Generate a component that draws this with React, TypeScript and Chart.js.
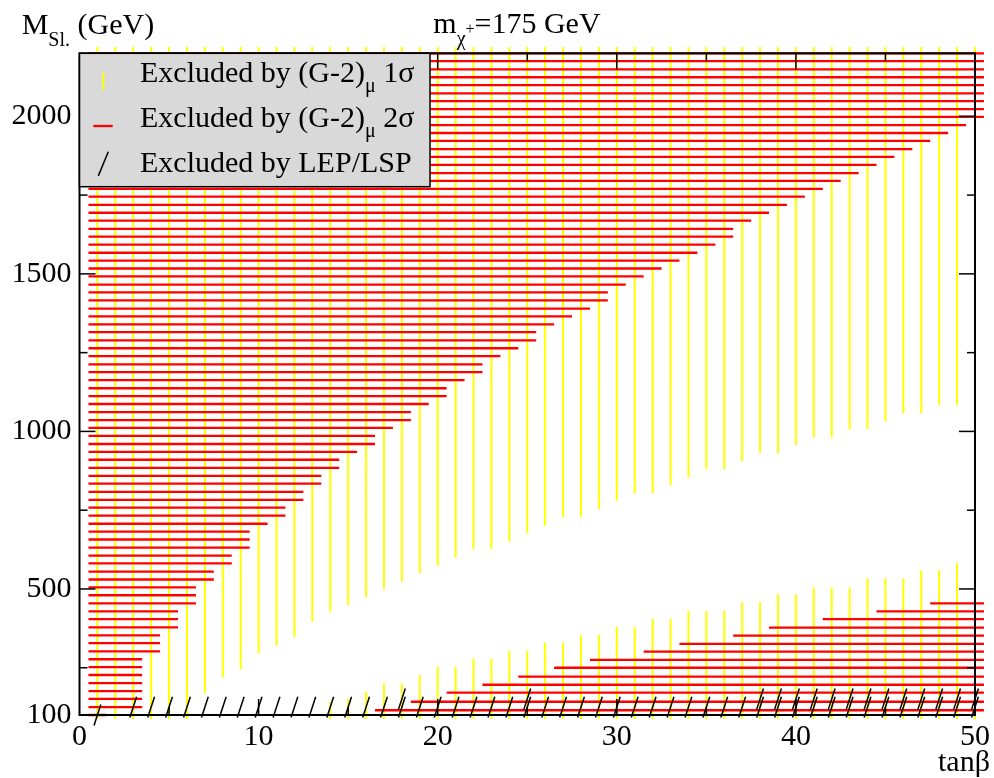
import React, { useEffect, useRef } from 'react';
import { Chart, registerables } from 'chart.js';

Chart.register(...registerables);

const FONT = "'Liberation Serif', 'Times New Roman', serif";

// Axes
const X_MIN = 0;
const X_MAX = 50;
const Y_MIN = 100;
const Y_MAX = 2200;
const xTickValues = [0, 10, 20, 30, 40, 50];
const xMajorInner = [10, 20, 30, 40];
const xMinorTicks = [5, 15, 25, 35, 45];
const yTickValues = [100, 500, 1000, 1500, 2000];
const yMajorInner = [500, 1000, 1500, 2000];
const yMinorTicks = [250, 750, 1250, 1750];

// Slepton mass grid rows (GeV)
const mLevels = [100, 125, 151, 176, 201, 227, 252, 277, 302, 328, 353, 378, 404, 429, 454, 480, 505, 530, 555, 581,
  606, 631, 657, 682, 707, 733, 758, 783, 808, 834, 859, 884, 910, 935, 960, 986, 1011, 1036, 1061, 1087,
  1112, 1137, 1163, 1188, 1213, 1239, 1264, 1289, 1315, 1340, 1365, 1390, 1416, 1441, 1466, 1492, 1517, 1542, 1567, 1593,
  1618, 1643, 1669, 1694, 1719, 1745, 1770, 1795, 1820, 1846, 1871, 1896, 1922, 1947, 1972, 1998, 2023, 2048, 2073, 2099,
  2124, 2149, 2175, 2200];

// 2 sigma excluded (upper-left region): tan beta from 0.5 up to this edge, per mass row
const redUpperStart = 0.5;
const redUpperEnd = [1.5, 3.5, 3.5, 3.5, 3.5, 3.5, 3.5, 3.5, 4.5, 4.5, 4.5, 5.5, 5.5, 5.5, 6.5, 6.5, 6.5, 7.5, 7.5, 8.5,
  8.5, 9.5, 9.5, 9.5, 10.5, 11.5, 11.5, 12.5, 12.5, 13.5, 13.5, 14.5, 14.5, 15.5, 16.5, 16.5, 17.5, 18.5, 18.5, 19.5,
  20.5, 20.5, 21.5, 22.5, 22.5, 23.5, 24.5, 25.5, 25.5, 26.5, 27.5, 28.5, 29.5, 29.5, 30.5, 31.5, 32.5, 33.5, 34.5, 35.5,
  36.5, 36.5, 37.5, 38.5, 39.5, 40.5, 41.5, 42.5, 43.5, 44.5, 45.5, 46.5, 47.5, 48.5, 49.5, 50.5, 50.5, 50.5, 50.5, 50.5,
  50.5, 50.5, 50.5, 50.5];

// 2 sigma excluded (lower-right region)
const redLowerM = [115, 142, 171, 196, 222, 250, 275, 301, 326, 352, 377, 404, 429, 454];
const redLowerStart = [16.5, 18.5, 20.5, 22.5, 24.5, 26.5, 28.5, 31.5, 33.5, 36.5, 38.5, 41.5, 44.5, 47.5];
const redLowerEnd = 50.5;

// 1 sigma excluded, vertical hatching per tan beta
const tanBeta = [1, 2, 3, 4, 5, 6, 7, 8, 9, 10, 11, 12, 13, 14, 15, 16, 17, 18, 19, 20, 21, 22, 23, 24, 25,
  26, 27, 28, 29, 30, 31, 32, 33, 34, 35, 36, 37, 38, 39, 40, 41, 42, 43, 44, 45, 46, 47, 48, 49, 50];
const yellowTop = 2220;
const yellowBottom = 87;
const yellowUpperEnd = [87, 87, 87, 87, 87, 87, 169, 220, 245, 296, 320, 347, 396, 428, 449, 473, 500, 523, 550, 574,
  599, 626, 626, 650, 677, 701, 728, 728, 753, 780, 803, 803, 829, 854, 880, 880, 905, 930, 930, 956,
  981, 981, 1006, 1006, 1032, 1057, 1057, 1083, 1083, 1110];
const yellowLowerTop = [null, null, null, null, null, null, null, null, null, null, null, null, null, 141, 151, 174, 201, 201, 227, 253,
  253, 279, 279, 304, 304, 329, 329, 354, 354, 380, 380, 406, 406, 431, 431, 431, 459, 459, 484, 484,
  505, 505, 505, 534, 534, 534, 560, 560, 583, 583];

// LEP / LSP excluded points
const lepRowM = [100, 125, 151];
const lepTanRow0 = [1];
const lepTanRow1 = [3, 4, 5, 6, 7, 8, 9, 10, 11, 12, 13, 14, 15, 16, 17, 18, 19, 20, 21, 22, 23, 24, 25, 26,
  27, 28, 29, 30, 31, 32, 33, 34, 35, 36, 37, 38, 39, 40, 41, 42, 43, 44, 45, 46, 47, 48, 49, 50];
const lepTanRow2 = [18, 25, 38, 39, 40, 41, 42, 43, 44, 45, 46, 47, 48, 49, 50];

type Pt = { x: number; y: number | null };

function buildYellow(): Pt[] {
  const d: Pt[] = [];
  tanBeta.forEach((t, i) => {
    d.push({ x: t, y: yellowTop }, { x: t, y: yellowUpperEnd[i] }, { x: t, y: null });
    const lt = yellowLowerTop[i];
    if (lt !== null) d.push({ x: t, y: yellowBottom }, { x: t, y: lt }, { x: t, y: null });
  });
  return d;
}

function buildRedUpper(): Pt[] {
  const d: Pt[] = [];
  mLevels.forEach((m, i) => {
    d.push({ x: redUpperStart, y: m }, { x: redUpperEnd[i], y: m }, { x: redUpperEnd[i], y: null });
  });
  return d;
}

function buildRedLower(): Pt[] {
  const d: Pt[] = [];
  redLowerM.forEach((m, i) => {
    d.push({ x: redLowerStart[i], y: m }, { x: redLowerEnd, y: m }, { x: redLowerEnd, y: null });
  });
  return d;
}

function buildLep(): Pt[] {
  const d: Pt[] = [];
  lepTanRow0.forEach((t) => d.push({ x: t, y: lepRowM[0] }));
  lepTanRow1.forEach((t) => d.push({ x: t, y: lepRowM[1] }));
  lepTanRow2.forEach((t) => d.push({ x: t, y: lepRowM[2] }));
  return d;
}

type Part = { t: string; size: number; dy?: number };
function drawRich(ctx: CanvasRenderingContext2D, x: number, y: number, parts: Part[]) {
  let cx = x;
  for (const p of parts) {
    ctx.font = `${p.size}px ${FONT}`;
    ctx.fillText(p.t, cx, y + (p.dy || 0));
    cx += ctx.measureText(p.t).width;
  }
}

function line(ctx: CanvasRenderingContext2D, x1: number, y1: number, x2: number, y2: number) {
  ctx.beginPath();
  ctx.moveTo(x1, y1);
  ctx.lineTo(x2, y2);
  ctx.stroke();
}

const decorPlugin = {
  id: 'decor',
  afterDatasetsDraw(chart: any) {
    const { ctx, chartArea } = chart;
    const { left, right, top, bottom } = chartArea;
    const xs = chart.scales.x;
    const ys = chart.scales.y;
    ctx.save();
    ctx.strokeStyle = '#000';
    ctx.lineWidth = 1.5;
    const major = 16;
    const minor = 8;
    xMajorInner.forEach((v) => {
      const px = xs.getPixelForValue(v);
      line(ctx, px, bottom, px, bottom - major);
      line(ctx, px, top, px, top + major);
    });
    xMinorTicks.forEach((v) => {
      const px = xs.getPixelForValue(v);
      line(ctx, px, bottom, px, bottom - minor);
      line(ctx, px, top, px, top + minor);
    });
    yMajorInner.forEach((v) => {
      const py = ys.getPixelForValue(v);
      line(ctx, left, py, left + major, py);
      line(ctx, right, py, right - major, py);
    });
    yMinorTicks.forEach((v) => {
      const py = ys.getPixelForValue(v);
      line(ctx, left, py, left + minor, py);
      line(ctx, right, py, right - minor, py);
    });
    ctx.lineWidth = 2;
    ctx.strokeRect(left, top, right - left, bottom - top);
    ctx.restore();
  },
  afterDraw(chart: any) {
    const { ctx, chartArea } = chart;
    const { left, top } = chartArea;
    ctx.save();
    // Legend box
    const bx = left;
    const by = top;
    const bw = 430 - left;
    const bh = 186.7 - top;
    ctx.fillStyle = '#d9d9d9';
    ctx.fillRect(bx, by, bw, bh);
    ctx.strokeStyle = '#000';
    ctx.lineWidth = 1.5;
    ctx.strokeRect(bx, by, bw, bh);

    // Legend symbols
    ctx.strokeStyle = '#ffff00';
    ctx.lineWidth = 2;
    line(ctx, 103.3, 72.7, 103.3, 90);
    ctx.strokeStyle = '#ff0000';
    ctx.lineWidth = 2.3;
    line(ctx, 93.3, 126, 112.7, 126);
    ctx.strokeStyle = '#000';
    ctx.lineWidth = 1.5;
    line(ctx, 98.3, 175.9, 108.3, 151.7);

    ctx.fillStyle = '#000';
    ctx.textBaseline = 'alphabetic';
    ctx.textAlign = 'left';
    drawRich(ctx, 140, 81.7, [
      { t: 'Excluded by (G-2)', size: 30 },
      { t: 'μ', size: 20, dy: 10 },
      { t: ' 1σ', size: 30 },
    ]);
    drawRich(ctx, 140, 126.7, [
      { t: 'Excluded by (G-2)', size: 30 },
      { t: 'μ', size: 20, dy: 10 },
      { t: ' 2σ', size: 30 },
    ]);
    drawRich(ctx, 140, 171.7, [{ t: 'Excluded by LEP/LSP', size: 30 }]);

    // Axis titles and heading
    drawRich(ctx, 21.7, 34, [
      { t: 'M', size: 30 },
      { t: 'Sl.', size: 20, dy: 12 },
      { t: ' (GeV)', size: 30 },
    ]);
    drawRich(ctx, 433.3, 33.3, [
      { t: 'm', size: 30 },
      { t: 'χ', size: 20, dy: 12 },
      { t: '+', size: 16, dy: 1 },
      { t: '=175 GeV', size: 30 },
    ]);
    drawRich(ctx, 938, 770.7, [{ t: 'tanβ', size: 30 }]);
    ctx.restore();
  },
};

export default function App() {
  const ref = useRef<HTMLCanvasElement | null>(null);
  useEffect(() => {
    document.body.style.margin = '0';
    const canvas = ref.current;
    if (!canvas) return;
    const tickFont = { family: FONT, size: 30 };
    const chart = new Chart(canvas, {
      type: 'line',
      data: {
        datasets: [
          {
            label: 'Excluded by LEP/LSP',
            data: buildLep() as any,
            showLine: false,
            pointStyle: 'line',
            pointRotation: -72,
            pointRadius: 11,
            pointBorderColor: '#000',
            pointBorderWidth: 1.5,
            pointBackgroundColor: '#000',
            clip: false as any,
          },
          {
            label: 'Excluded by (G-2) 2σ (low)',
            data: buildRedLower() as any,
            borderColor: '#ff0000',
            borderWidth: 2.3,
            pointRadius: 0,
            spanGaps: false,
            clip: false as any,
          },
          {
            label: 'Excluded by (G-2) 2σ',
            data: buildRedUpper() as any,
            borderColor: '#ff0000',
            borderWidth: 2.3,
            pointRadius: 0,
            spanGaps: false,
            clip: false as any,
          },
          {
            label: 'Excluded by (G-2) 1σ',
            data: buildYellow() as any,
            borderColor: '#ffff00',
            borderWidth: 2,
            pointRadius: 0,
            spanGaps: false,
            clip: false as any,
          },
        ],
      },
      options: {
        responsive: false,
        animation: false,
        events: [],
        layout: { padding: { left: 0, right: 19, top: 53.3, bottom: 0 } },
        plugins: { legend: { display: false }, tooltip: { enabled: false } },
        scales: {
          x: {
            type: 'linear',
            min: X_MIN,
            max: X_MAX,
            grid: { display: false, drawTicks: false },
            border: { display: false },
            ticks: {
              font: tickFont,
              color: '#000',
              padding: 4,
              maxRotation: 0,
              autoSkip: false,
              callback: (v: any) => String(v),
            },
            afterBuildTicks: (s: any) => {
              s.ticks = xTickValues.map((v) => ({ value: v }));
            },
            afterFit: (s: any) => {
              s.height = 63;
            },
          },
          y: {
            type: 'linear',
            min: Y_MIN,
            max: Y_MAX,
            grid: { display: false, drawTicks: false },
            border: { display: false },
            ticks: {
              font: tickFont,
              color: '#000',
              padding: 8,
              autoSkip: false,
              callback: (v: any) => String(v),
            },
            afterBuildTicks: (s: any) => {
              s.ticks = yTickValues.map((v) => ({ value: v }));
            },
            afterFit: (s: any) => {
              s.width = 79.5;
            },
          },
        },
      },
      plugins: [decorPlugin],
    });
    return () => chart.destroy();
  }, []);
  return (
    <div style={{ position: 'absolute', left: 0, top: 0, width: 994, height: 778, background: '#fff' }}>
      <canvas ref={ref} width={994} height={778} style={{ display: 'block' }} />
    </div>
  );
}
